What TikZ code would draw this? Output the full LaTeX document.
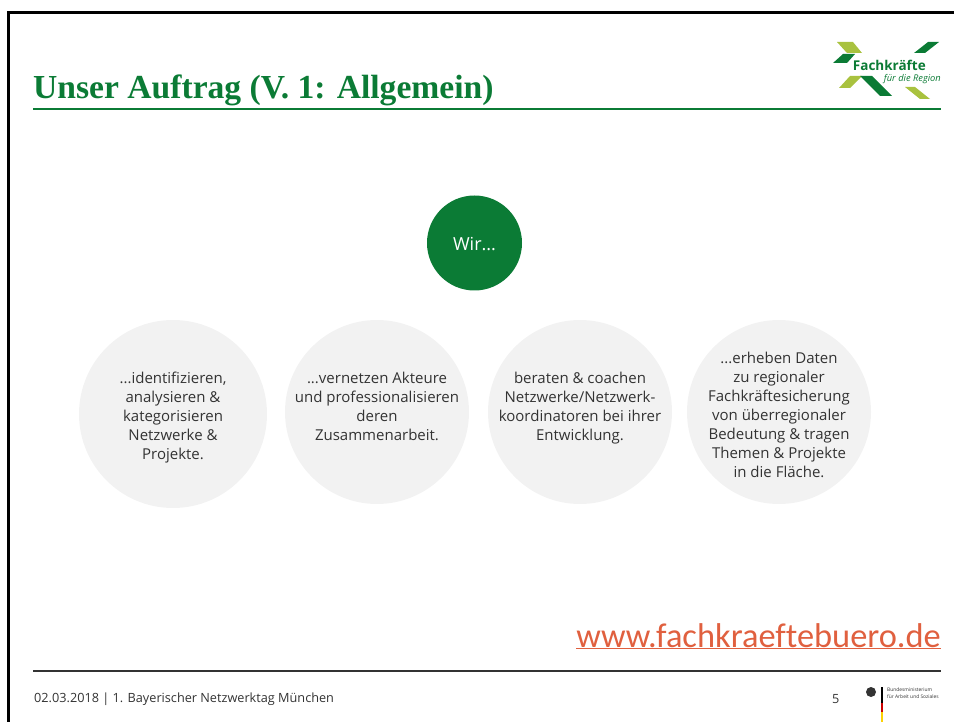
\documentclass[tikz,border=0pt]{standalone}
\usepackage{fontspec}
\setmainfont{Open Sans}
\newfontfamily\titlefont{Liberation Serif}
\newfontfamily\urlfont[Ligatures=NoCommon]{Carlito}
\usepackage{xcolor}
\definecolor{auftraggreen}{HTML}{0B7B35}
\definecolor{logolime}{HTML}{A9C23F}
\definecolor{circlegray}{HTML}{F2F2F2}
\definecolor{urlred}{HTML}{E0603F}
\definecolor{footgray}{HTML}{333333}
\newcommand{\firstline}{\rule{0pt}{18pt}}
\tikzset{
  bigcircle/.style={circle, fill=circlegray, inner sep=-8pt, align=center, text=footgray,
    font=\fontsize{15}{19}\selectfont},
  footline/.style={anchor=west, text=footgray, font=\fontsize{12.7}{14}\selectfont}
}

\begin{document}
\begin{tikzpicture}[x=1pt, y=-1pt]
  \useasboundingbox (0,0) rectangle (954,722);

  % Frame at the top and on the left
  \draw[black, line width=3pt] (8.5,722) -- (8.5,12.5) -- (954,12.5);

  % Title with its rule
  \node[anchor=base west, inner sep=0pt, text=auftraggreen, font=\titlefont\bfseries\fontsize{33.6}{36}\selectfont] (title) at (33,98.5) {Unser Auftrag (V. 1: Allgemein)};
  \draw[auftraggreen, line width=2pt] (33,109) -- (941,109);

  % Logo
  \fill[logolime] (837,42) -- (853,42) -- (862,53) -- (847,53) -- cycle;
  \fill[auftraggreen] (833,63) -- (843,54) -- (855,54) -- (847,63) -- cycle;
  \fill[auftraggreen] (914,53) -- (928,42) -- (939,42) -- (925,53) -- cycle;
  \fill[logolime] (839,88) -- (850,76) -- (862,76) -- (850,88) -- cycle;
  \fill[auftraggreen] (860,76) -- (872,76) -- (892,96) -- (880,96) -- cycle;
  \fill[logolime] (905,87) -- (915,87) -- (930,99) -- (920,99) -- cycle;
  \node[anchor=base east, inner sep=0pt, text=auftraggreen, font=\bfseries\fontsize{13.5}{16}\selectfont] (logotop) at (926,71) {Fachkräfte};
  \node[anchor=base east, inner sep=0pt, text=auftraggreen, font=\itshape\fontsize{9.3}{12}\selectfont] (logosub) at (941,82) {für die Region};

  % Circles
  \node[circle, fill=auftraggreen, minimum size=95pt, inner sep=0pt, text=white, font=\fontsize{18}{19}\selectfont] (wir) at (474.5,243) {\rule{0pt}{16pt}Wir...};
  \node[bigcircle, minimum size=188pt] (identify) at (173,414) {\firstline...identifizieren,\\analysieren \&\\kategorisieren\\Netzwerke \&\\Projekte.};
  \node[bigcircle, minimum size=184pt] (connect) at (377,412) {\firstline...vernetzen Akteure\\und professionalisieren\\deren\\Zusammenarbeit.\\~};
  \node[bigcircle, minimum size=184pt] (coach) at (580,412) {\firstline beraten \& coachen\\Netzwerke/Netzwerk-\\koordinatoren bei ihrer\\Entwicklung.\\~};
  \node[bigcircle, minimum size=184pt] (collect) at (779,412) {\firstline...erheben Daten\\zu regionaler\\Fachkräftesicherung\\von überregionaler\\Bedeutung \& tragen\\Themen \& Projekte\\in die Fläche.};

  % Link
  \node[anchor=base east, inner sep=0pt, text=urlred, font=\urlfont\fontsize{34.4}{38}\selectfont] (url) at (941,647) {\underline{www.fachkraeftebuero.de}};

  % Footer
  \draw[footgray, line width=2pt] (33,671) -- (941,671);
  \node[footline, inner sep=0pt] (footer) at (34,699) {02.03.2018 | 1. Bayerischer Netzwerktag München};
  \node[footline, inner sep=0pt] (pagenum) at (832,699) {5};

  % Ministry mark
  \fill[footgray] (871,692) circle (5);
  \fill[black] (881,687) rectangle ++(1.5,16);
  \fill[red!80!black] (881,703) rectangle ++(1.5,9);
  \fill[yellow!70!orange] (881,712) rectangle ++(1.5,10);
  \node[anchor=west, inner sep=0pt, align=left, text=footgray, font=\fontsize{4.9}{7}\selectfont] (ministry) at (887,693) {Bundesministerium\\für Arbeit und Soziales};
\end{tikzpicture}
\end{document}
